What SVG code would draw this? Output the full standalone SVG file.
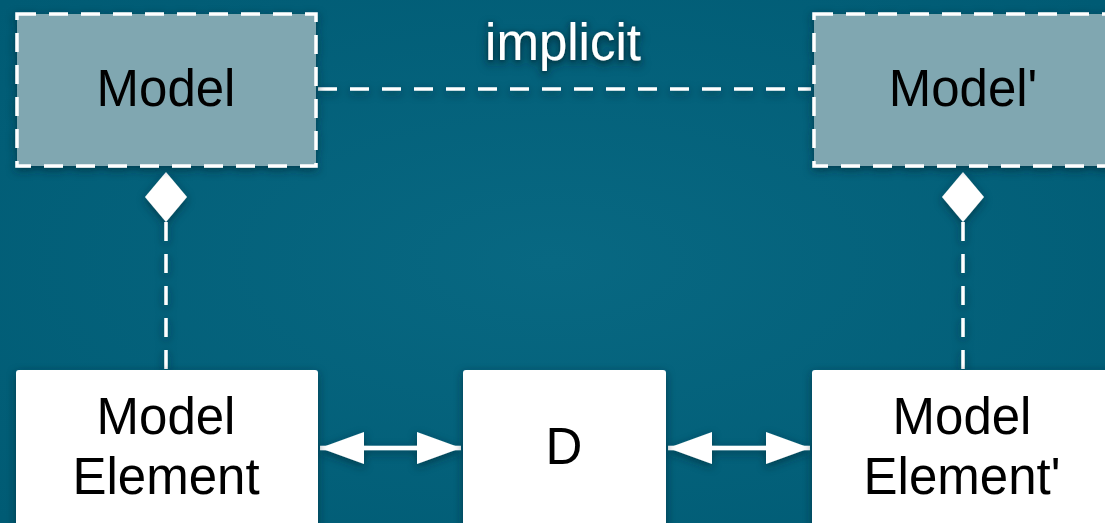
<svg xmlns="http://www.w3.org/2000/svg" width="1105" height="523" viewBox="0 0 1105 523">
  <defs>
    <radialGradient id="bg" cx="50%" cy="50%" r="70%">
      <stop offset="0" stop-color="#086882"/>
      <stop offset="1" stop-color="#005b74"/>
    </radialGradient>
    <filter id="shadow" x="-20%" y="-20%" width="140%" height="140%">
      <feDropShadow dx="0" dy="3" stdDeviation="4" flood-color="#002633" flood-opacity="0.6"/>
    </filter>
    <filter id="tshadow" x="-20%" y="-40%" width="140%" height="180%">
      <feDropShadow dx="0" dy="2" stdDeviation="2.5" flood-color="#002633" flood-opacity="0.7"/>
    </filter>
    <marker id="head" viewBox="0 0 44 32" refX="44" refY="16" markerWidth="44" markerHeight="32" markerUnits="userSpaceOnUse" orient="auto-start-reverse">
      <path d="M0,0 L44,16 L0,32 Z" fill="#ffffff"/>
    </marker>
  </defs>
  <style>
    .lbl { font-family: "Liberation Sans", Arial, sans-serif; font-size: 51px; fill: #000; text-anchor: middle; }
    .abstract { fill: #80a7b1; stroke: #ffffff; stroke-width: 3.5; stroke-dasharray: 19 13; }
    .concrete { fill: #ffffff; }
    .dash { stroke: #ffffff; stroke-width: 3.5; stroke-dasharray: 19 13; fill: none; }
    .solid { stroke: #ffffff; stroke-width: 4.5; fill: none; }
    .diamond { fill: #ffffff; }
  </style>

  <rect width="1105" height="523" fill="url(#bg)"/>

  <!-- connectors -->
  <g id="connectors" filter="url(#shadow)">
    <line class="dash" x1="318" y1="89" x2="811" y2="89"/>
    <text x="563" y="60" font-family="Liberation Sans, Arial, sans-serif" font-size="51" fill="#ffffff" text-anchor="middle" filter="url(#tshadow)">implicit</text>
    <line class="dash" x1="166" y1="222" x2="166" y2="370"/>
    <path class="diamond" d="M166,172 L187,197 L166,222 L145,197 Z"/>
    <line class="dash" x1="963" y1="222" x2="963" y2="370"/>
    <path class="diamond" d="M963,172 L984,197 L963,222 L942,197 Z"/>
    <line class="solid" x1="320" y1="448" x2="461" y2="448" marker-start="url(#head)" marker-end="url(#head)"/>
    <line class="solid" x1="668" y1="448" x2="810" y2="448" marker-start="url(#head)" marker-end="url(#head)"/>
  </g>

  <g id="model" filter="url(#shadow)">
    <rect class="abstract" x="17" y="14" width="299" height="152"/>
    <text class="lbl" x="166" y="106">Model</text>
  </g>

  <g id="model-prime" filter="url(#shadow)">
    <rect class="abstract" x="814" y="14" width="299" height="152"/>
    <text class="lbl" x="963" y="106">Model'</text>
  </g>

  <g id="model-element" filter="url(#shadow)">
    <rect class="concrete" x="16" y="370" width="302" height="170" rx="3"/>
    <text class="lbl" x="166" y="434">Model</text>
    <text class="lbl" x="166" y="494">Element</text>
  </g>

  <g id="d" filter="url(#shadow)">
    <rect class="concrete" x="463" y="370" width="203" height="170" rx="3"/>
    <text class="lbl" x="564" y="464">D</text>
  </g>

  <g id="model-element-prime" filter="url(#shadow)">
    <rect class="concrete" x="812" y="370" width="302" height="170" rx="3"/>
    <text class="lbl" x="962" y="434">Model</text>
    <text class="lbl" x="962" y="494">Element'</text>
  </g>
</svg>
